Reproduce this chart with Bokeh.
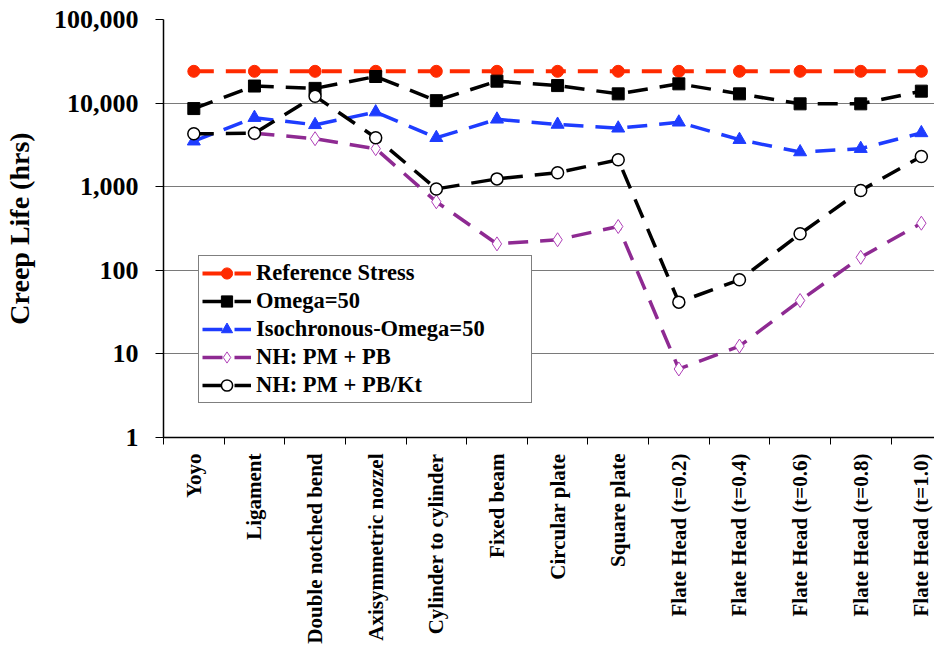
import math
from bokeh.plotting import figure
from bokeh.models import Range1d, FixedTicker, NumeralTickFormatter, Legend, LegendItem
from bokeh.embed import file_html
from bokeh.resources import INLINE

categories = ["Yoyo", "Ligament", "Double notched bend", "Axisymmetric nozzel",
              "Cylinder to cylinder", "Fixed beam", "Circular plate", "Square plate",
              "Flate Head (t=0.2)", "Flate Head (t=0.4)", "Flate Head (t=0.6)",
              "Flate Head (t=0.8)", "Flate Head (t=1.0)"]
x_pos = [0, 1, 2, 3, 4, 5, 6, 7, 8, 9, 10, 11, 12]

reference_stress = [24000, 24000, 24000, 24000, 24000, 24000, 24000, 24000, 24000, 24000, 24000, 24000, 24000]
omega_50 = [8600, 16000, 15000, 20800, 10700, 18300, 16200, 12900, 17000, 12900, 9800, 9800, 13900]
iso_omega_50 = [3500, 6700, 5500, 7800, 3850, 6400, 5550, 5000, 5900, 3650, 2600, 2850, 4400]
nh_pm_pb = [float("nan"), 4360, 3750, 2850, 660, 207, 232, 334, 6.6, 12.4, 43.5, 143, 366]
nh_pm_pb_kt = [4290, 4360, 12100, 3850, 940, 1240, 1470, 2100, 41.6, 77, 273, 900, 2300]

y_ticks = [1, 10, 100, 1000, 10000, 100000]

W, H = 934, 646
LEFT, TOP, BOTTOM = 157, 19, 209
cat_px = 61.1
x_end = -0.5 + (W - LEFT) / cat_px

FONT = "Liberation Serif"
RED = "#FF2A00"
BLUE = "#1E3CFF"
PURPLE = "#8E2A92"

p = figure(width=W, height=H, x_range=Range1d(-0.5, x_end), y_range=Range1d(1, 100000),
           y_axis_type="log", output_backend="svg", toolbar_location=None,
           min_border_left=LEFT, min_border_right=0, min_border_top=TOP,
           min_border_bottom=BOTTOM)
p.outline_line_color = None
p.background_fill_color = "white"
p.border_fill_color = "white"

# x axis
xa = p.xaxis[0]
xa.ticker = FixedTicker(ticks=x_pos, minor_ticks=[i - 0.5 for i in range(14)])
xa.major_label_overrides = {i: c for i, c in zip(x_pos, categories)}
xa.major_tick_line_color = None
xa.major_tick_out = 7
xa.major_tick_in = 0
xa.minor_tick_out = 7
xa.minor_tick_in = 0
xa.minor_tick_line_color = "black"
xa.minor_tick_line_width = 1
xa.axis_line_color = "black"
xa.axis_line_width = 1.5
xa.major_label_orientation = math.pi / 2
xa.major_label_standoff = 9
xa.major_label_text_font = FONT
xa.major_label_text_font_style = "bold"
xa.major_label_text_font_size = "21px"
xa.major_label_text_color = "black"
p.xgrid.visible = False

# y axis
ya = p.yaxis[0]
ya.ticker = FixedTicker(ticks=y_ticks)
ya.formatter = NumeralTickFormatter(format="0,0")
ya.major_tick_out = 8
ya.major_tick_in = 0
ya.major_tick_line_color = "black"
ya.minor_tick_line_color = None
ya.axis_line_color = "black"
ya.axis_line_width = 1.5
ya.major_label_standoff = 17
ya.major_label_text_font = FONT
ya.major_label_text_font_style = "bold"
ya.major_label_text_font_size = "26px"
ya.major_label_text_color = "black"
ya.axis_label = "Creep Life (hrs)"
ya.axis_label_text_font = FONT
ya.axis_label_text_font_style = "bold"
ya.axis_label_text_font_size = "28px"
ya.axis_label_text_color = "black"
ya.axis_label_standoff = 16
p.ygrid.ticker = FixedTicker(ticks=y_ticks)
p.ygrid.grid_line_color = "#7a7a7a"
p.ygrid.grid_line_width = 1.2

# series
r1l = p.line(x_pos, reference_stress, line_color=RED, line_width=4, line_dash="20 12")
r1m = p.scatter(x_pos, reference_stress, marker="circle", size=12, fill_color=RED, line_color=RED)

r2l = p.line(x_pos, omega_50, line_color="black", line_width=3.5, line_dash="20 12")
r2m = p.scatter(x_pos, omega_50, marker="square", size=12, fill_color="black", line_color="black")

r3l = p.line(x_pos, iso_omega_50, line_color=BLUE, line_width=3.5, line_dash="20 12")
r3m = p.scatter(x_pos, iso_omega_50, marker="triangle", size=13, fill_color=BLUE, line_color=BLUE)

r4l = p.line(x_pos, nh_pm_pb, line_color=PURPLE, line_width=3.5, line_dash="20 12")
r4m = p.scatter(x_pos, nh_pm_pb, marker="diamond", size=14, fill_color="white", line_color="#B040B8", line_width=1)

r5l = p.line(x_pos, nh_pm_pb_kt, line_color="black", line_width=3.5, line_dash="20 12")
r5m = p.scatter(x_pos, nh_pm_pb_kt, marker="circle", size=12, fill_color="white", line_color="black", line_width=1.5)

legend = Legend(items=[
    LegendItem(label="Reference Stress", renderers=[r1l, r1m]),
    LegendItem(label="Omega=50", renderers=[r2l, r2m]),
    LegendItem(label="Isochronous-Omega=50", renderers=[r3l, r3m]),
    LegendItem(label="NH: PM + PB", renderers=[r4l, r4m]),
    LegendItem(label="NH: PM + PB/Kt", renderers=[r5l, r5m]),
], location=(35, 34))
legend.padding = 3
legend.spacing = 0
legend.margin = 0
legend.glyph_width = 49
legend.glyph_height = 28
legend.label_height = 28
legend.label_width = 272
legend.label_standoff = 5
legend.label_text_font = FONT
legend.label_text_font_style = "bold"
legend.label_text_font_size = "22.5px"
legend.label_text_color = "black"
legend.border_line_color = "black"
legend.border_line_width = 1.5
legend.background_fill_color = "white"
legend.background_fill_alpha = 1.0
p.add_layout(legend, "center")

open("out.html", "w").write(file_html(p, INLINE))
